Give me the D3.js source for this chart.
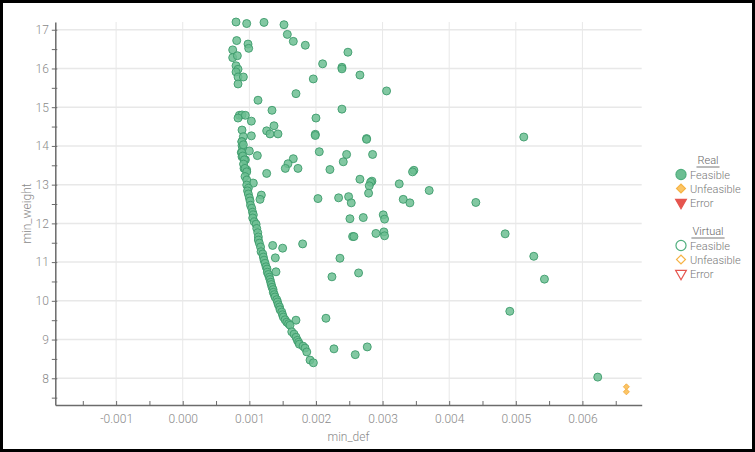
<!DOCTYPE html>
<html><head><meta charset="utf-8">
<script src="https://cdn.jsdelivr.net/npm/d3@7"></script>
<style>
html,body{margin:0;padding:0;background:#fff;}
svg{display:block;font-family:Roboto,"Noto Sans",sans-serif;}
</style></head>
<body>
<svg id="chart" width="755" height="452"></svg>
<script>
// min_def values in thousandths (x 0.001), min_weight values
const feasibleDef = [
0.80,0.96,1.22,1.52,1.57,1.66,1.84,0.98,0.99,0.81,0.75,0.75,0.82,0.80,0.83,0.80,0.83,0.91,0.83,
2.48,2.10,2.39,2.39,2.66,1.96,3.06,1.70,1.13,1.34,2.39,2.00,0.85,0.89,0.94,0.83,1.03,1.37,1.26,
1.31,1.43,0.89,1.03,0.91,1.99,1.99,2.76,2.76,5.12,0.89,0.89,0.90,1.00,0.88,0.89,1.12,0.94,2.05,
2.46,2.85,1.66,2.41,1.58,1.54,1.73,2.21,1.26,0.92,0.96,3.47,3.45,2.66,2.84,2.82,3.25,3.70,2.80,
2.79,1.06,1.18,1.16,2.49,2.34,2.03,2.53,3.31,3.41,4.40,3.01,3.03,2.71,2.51,3.02,3.03,2.90,2.55,
2.57,4.84,1.35,1.50,1.80,2.36,5.27,1.39,1.40,2.24,2.64,5.43,2.15,1.70,4.91,2.27,2.77,2.59,6.23,
// dense front
0.886,0.910,0.886,0.901,0.925,0.913,0.935,0.961,0.935,0.961,0.961,0.985,0.973,0.985,1.000,1.011,
1.018,1.036,1.048,1.060,1.051,1.075,1.101,1.111,1.126,1.135,1.135,1.150,1.168,1.176,1.201,1.210,
1.221,1.236,1.251,1.266,1.270,1.285,1.300,1.311,1.321,1.330,1.341,1.356,1.360,1.375,1.386,1.411,
1.423,1.435,1.453,1.461,1.486,1.498,1.510,1.536,1.562,1.589,1.611,1.637,1.671,1.701,1.721,1.739,
1.751,1.806,1.836,1.862,1.911,1.961
];
const feasibleWeight = [
17.20,17.16,17.19,17.13,16.88,16.70,16.60,16.63,16.52,16.72,16.48,16.28,16.33,16.07,15.98,15.91,15.78,15.78,15.60,
16.42,16.12,16.03,15.99,15.83,15.73,15.42,15.35,15.18,14.92,14.95,14.72,14.79,14.80,14.79,14.72,14.64,14.52,14.39,
14.31,14.31,14.41,14.26,14.24,14.30,14.27,14.19,14.17,14.23,14.11,14.01,13.95,13.87,13.83,13.72,13.75,13.64,13.85,
13.78,13.78,13.67,13.59,13.54,13.42,13.42,13.39,13.29,13.42,13.38,13.37,13.33,13.14,13.09,13.06,13.02,12.85,12.97,
12.78,13.04,12.73,12.62,12.69,12.66,12.64,12.53,12.62,12.53,12.54,12.22,12.11,12.15,12.12,11.78,11.68,11.74,11.66,
11.66,11.73,11.43,11.36,11.47,11.10,11.15,11.11,10.75,10.62,10.72,10.56,9.55,9.50,9.73,8.76,8.81,8.61,8.03,
// dense front
14.11,14.03,13.83,13.74,13.64,13.53,13.42,13.33,13.21,13.12,12.99,12.91,12.84,12.76,12.66,12.58,
12.47,12.39,12.29,12.22,12.14,12.04,11.98,11.87,11.76,11.65,11.57,11.49,11.39,11.27,11.21,11.13,
11.05,10.97,10.88,10.82,10.74,10.68,10.61,10.55,10.48,10.42,10.35,10.29,10.22,10.16,10.10,10.03,
9.97,9.90,9.84,9.77,9.71,9.64,9.58,9.51,9.45,9.41,9.37,9.20,9.14,9.06,8.98,8.93,
8.88,8.83,8.78,8.68,8.47,8.40
];
const unfeasibleDef = [6.66, 6.66];
const unfeasibleWeight = [7.78, 7.65];

const xTicks = [-0.001,0.000,0.001,0.002,0.003,0.004,0.005,0.006];
const xMinorTicks = [-0.0015,-0.0005,0.0005,0.0015,0.0025,0.0035,0.0045,0.0055,0.0065];
const yTicks = [8,9,10,11,12,13,14,15,16,17];
const yMinorTicks = [7.5,8.5,9.5,10.5,11.5,12.5,13.5,14.5,15.5,16.5];
const legendGroups = ["Real","Virtual"];
const legendItems = ["Feasible","Unfeasible","Error"];

const svg = d3.select("#chart");
const W = 755, H = 452;
const L = 55.3, R = 641.7, T = 22, B = 405;

const x = d3.scaleLinear().domain([-0.001913, 0.00689]).range([L, R]);
const y = d3.scaleLinear().domain([7.31, 17.2]).range([B, T]);

// grid
const grid = svg.append("g");
grid.selectAll("line.gx").data(xTicks).join("line")
  .attr("x1", d => x(d)).attr("x2", d => x(d)).attr("y1", T).attr("y2", B)
  .attr("stroke", "#e8e8e8").attr("stroke-width", 1);
grid.selectAll("line.gy").data(yTicks).join("line")
  .attr("y1", d => y(d)).attr("y2", d => y(d)).attr("x1", L).attr("x2", R)
  .attr("stroke", "#e8e8e8").attr("stroke-width", 1.5);

// axes
const axisColor = "#6b6b6b";
const fmtX = d => (Math.abs(d) < 1e-12 ? 0 : d).toFixed(3);
const xAxis = svg.append("g").attr("transform", `translate(0,${B})`)
  .call(d3.axisBottom(x).tickValues(xTicks.concat(xMinorTicks)).tickFormat(d => xTicks.includes(d) ? fmtX(d) : "").tickSizeInner(-4).tickSizeOuter(0).tickPadding(10));
const yAxis = svg.append("g").attr("transform", `translate(${L},0)`)
  .call(d3.axisLeft(y).tickValues(yTicks.concat(yMinorTicks)).tickFormat(d => yTicks.includes(d) ? String(d) : "").tickSizeInner(3.5).tickSizeOuter(0).tickPadding(3));
[xAxis, yAxis].forEach(g => {
  g.select(".domain").attr("stroke", axisColor).attr("stroke-width", 1.5);
  g.selectAll(".tick line").attr("stroke", axisColor).attr("stroke-width", 1);
  g.selectAll(".tick text").attr("fill", "#8a8a8a").attr("font-size", 12)
    .attr("font-family", "Roboto, sans-serif").attr("font-weight", 300);
});
yAxis.selectAll(".tick line").attr("x2", 2).attr("x1", -3.5);
xAxis.selectAll(".tick line").attr("y1", 1).attr("y2", -4);
xAxis.selectAll(".tick text").attr("dy", "0.71em").attr("y", 9);

// axis titles
svg.append("text").attr("x", (L + R) / 2).attr("y", 441)
  .attr("text-anchor", "middle").attr("fill", "#8a8a8a").attr("font-size", 12).attr("font-weight", 300).text("min_def");
svg.append("text").attr("transform", `translate(31,${(T + B) / 2}) rotate(-90)`)
  .attr("text-anchor", "middle").attr("fill", "#8a8a8a").attr("font-size", 12).attr("font-weight", 300).text("min_weight");

// points
const feasible = feasibleDef.map((d, i) => ({def: d / 1000, w: feasibleWeight[i]}));
const unfeasible = unfeasibleDef.map((d, i) => ({def: d / 1000, w: unfeasibleWeight[i]}));

svg.append("g").selectAll("circle").data(feasible).join("circle")
  .attr("cx", d => x(d.def)).attr("cy", d => y(d.w)).attr("r", 4)
  .attr("fill", "#6cbe92").attr("fill-opacity", 0.85)
  .attr("stroke", "#3d9b6b").attr("stroke-width", 1).attr("stroke-opacity", 0.9);

const diamond = d3.symbol().type(d3.symbolSquare).size(18);
svg.append("g").selectAll("path").data(unfeasible).join("path")
  .attr("transform", d => `translate(${x(d.def)},${y(d.w)}) rotate(45)`)
  .attr("d", diamond)
  .attr("fill", "#fbc566").attr("stroke", "#f2a93b").attr("stroke-width", 0.8);

// legend
const lg = svg.append("g");
const legendColors = {Feasible: "#4fae7d", Unfeasible: "#f6b345", Error: "#e5554f"};
const legendFill = {Feasible: "#6cbe92", Unfeasible: "#fbc566", Error: "#e5554f"};
const groupTop = {Real: 164, Virtual: 235};
legendGroups.forEach(gname => {
  const yy = groupTop[gname];
  const t = lg.append("text").attr("x", 708).attr("y", yy).attr("text-anchor", "middle")
    .attr("fill", "#666").attr("font-size", 11).attr("font-weight", 300).text(gname);
  const bb = t.node().getBBox();
  lg.append("line").attr("x1", bb.x - 1).attr("x2", bb.x + bb.width + 1).attr("y1", yy + 3).attr("y2", yy + 3)
    .attr("stroke", "#777").attr("stroke-width", 1);
  legendItems.forEach((item, i) => {
    const cy = yy + 10.5 + i * 14;
    const filled = gname === "Real";
    let sym, rot = "";
    if (item === "Feasible") sym = d3.symbol().type(d3.symbolCircle).size(80);
    else if (item === "Unfeasible") { sym = d3.symbol().type(d3.symbolSquare).size(40); rot = " rotate(45)"; }
    else { sym = d3.symbol().type(d3.symbolTriangle).size(50); rot = " rotate(180)"; }
    lg.append("path").attr("d", sym)
      .attr("transform", `translate(681,${cy})` + rot)
      .attr("fill", filled ? legendFill[item] : "none")
      .attr("stroke", legendColors[item]).attr("stroke-width", 1.2);
    lg.append("text").attr("x", 690).attr("y", cy + 4).attr("fill", "#777")
      .attr("font-size", 11).attr("font-weight", 300).text(item);
  });
});

// frame
svg.append("rect").attr("x", 1.5).attr("y", 1.5).attr("width", W - 3).attr("height", H - 3)
  .attr("fill", "none").attr("stroke", "#000").attr("stroke-width", 3);
</script>
</body></html>
